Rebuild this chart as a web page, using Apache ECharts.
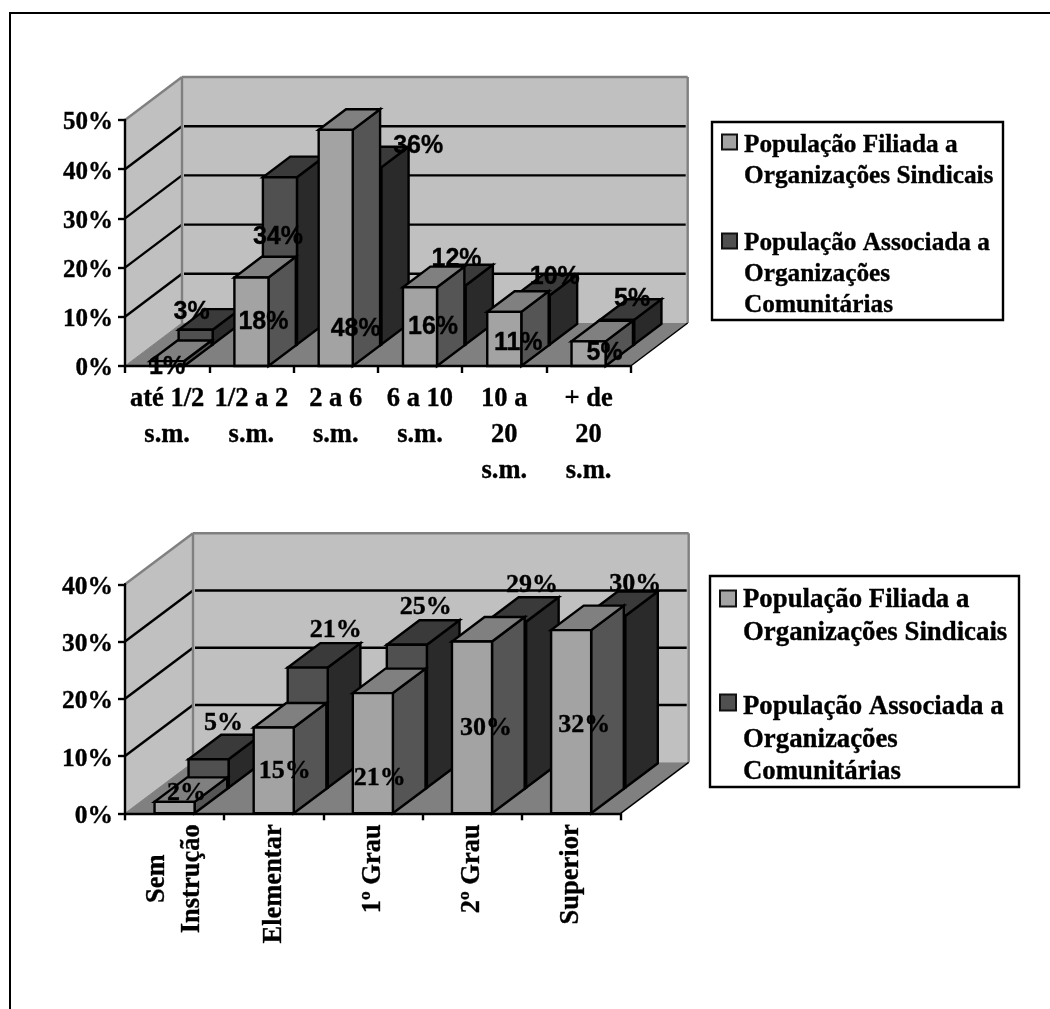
<!DOCTYPE html>
<html>
<head>
<meta charset="utf-8">
<style>html,body{margin:0;padding:0;background:#fff;overflow:hidden}#chart{width:1050px;height:1009px}</style>
<script src="https://cdn.jsdelivr.net/npm/echarts@6/dist/echarts.min.js"></script>
</head>
<body>
<div id="chart"></div>
<script>
// Filiação sindical e associação comunitária, por renda e por instrução
const seriesNames = ['População Filiada a\nOrganizações Sindicais', 'População Associada a\nOrganizações\nComunitárias'];

const rendaCategories = ['até 1/2\ns.m.', '1/2 a 2\ns.m.', '2 a 6\ns.m.', '6 a 10\ns.m.', '10 a\n20\ns.m.', '+ de\n20\ns.m.'];
const rendaFiliada = [1, 18, 48, 16, 11, 5];
const rendaAssociada = [3, 34, 36, 12, 10, 5];
const rendaTicks = [0, 10, 20, 30, 40, 50];

const instrucaoCategories = ['Sem\nInstrução', 'Elementar', '1º Grau', '2º Grau', 'Superior'];
const instrucaoFiliada = [2, 15, 21, 30, 32];
const instrucaoAssociada = [5, 21, 25, 29, 30];
const instrucaoTicks = [0, 10, 20, 30, 40];

// Deslocamento de cada rótulo de dados em relação ao topo da face frontal da barra
const rendaFiliadaNudge = [[0, 4], [12, 43], [20, 197], [13, 38], [14, 29], [16, 10]];
const rendaAssociadaNudge = [[-4, -20], [-2, 58], [54, -23], [8, -28], [22, -20], [15, -23]];
const instrucaoFiliadaNudge = [[12, -11], [11, 42], [7, 83], [14, 85], [13, 93]];
const instrucaoAssociadaNudge = [[15, -38], [28, -39], [19, -39], [26, -38], [30, -34]];

const SERIF = '"Liberation Serif","Times New Roman",serif';
const SANS = '"Liberation Sans",Arial,sans-serif';
const WALL = '#c0c0c0', FLOOR = '#808080', EDGE = '#808080', INK = '#000';
const FACES = [
  { front: '#a3a3a3', top: '#808080', side: '#555555' },
  { front: '#505050', top: '#3a3a3a', side: '#2a2a2a' }
];
const BAR_WIDTH = 0.404, BAR_DEPTH = 0.48, SLOT_DEPTH = 0.5;
const STROKE = 2.4;
const GLYPH_DROP = 2;   // centro óptico dos algarismos fica acima do centro da caixa de texto
const TEXT_WEIGHT = 0.35;

const line = (a, b, color, w) => ({
  type: 'line',
  shape: { x1: a[0], y1: a[1], x2: b[0], y2: b[1] },
  style: { stroke: color, lineWidth: w }
});
const poly = (points, fill, stroke, w) => ({
  type: 'polygon',
  shape: { points },
  style: { fill, stroke: stroke || null, lineWidth: w || 0, lineJoin: 'miter' }
});

// Paredes, piso e linhas de grade da caixa 3D
function wallsRenderer(depth, ticks, nCats) {
  return function (params, api) {
    const [dx, dy] = depth;
    const lo = ticks[0], hi = ticks[ticks.length - 1];
    const band = api.size([1, 0])[0];
    const x0 = api.coord([0, lo])[0] - band / 2;
    const x1 = api.coord([nCats - 1, lo])[0] + band / 2;
    const yB = api.coord([0, lo])[1], yT = api.coord([0, hi])[1];
    const kids = [
      poly([[x0, yB], [x0 + dx, yB + dy], [x0 + dx, yT + dy], [x0, yT]], WALL),
      poly([[x0 + dx, yB + dy], [x1 + dx, yB + dy], [x1 + dx, yT + dy], [x0 + dx, yT + dy]], WALL),
      poly([[x0, yB], [x1, yB], [x1 + dx, yB + dy], [x0 + dx, yB + dy]], FLOOR)
    ];
    ticks.slice(1, -1).forEach(t => {
      const y = api.coord([0, t])[1];
      kids.push(line([x0, y], [x0 + dx, y + dy], INK, STROKE));
      kids.push(line([x0 + dx + 2, y + dy], [x1 + dx - 2, y + dy], INK, STROKE));
    });
    kids.push(line([x0, yT], [x0 + dx, yT + dy], EDGE, STROKE));
    kids.push(line([x0 + dx, yT + dy], [x1 + dx, yT + dy], EDGE, STROKE));
    kids.push(line([x0 + dx, yT + dy], [x0 + dx, yB + dy], EDGE, STROKE));
    kids.push(line([x1 + dx, yT + dy], [x1 + dx, yB + dy], EDGE, STROKE));
    kids.push(line([x0, yB], [x0 + dx, yB + dy], EDGE, 1));
    kids.push(line([x1, yB], [x1 + dx, yB + dy], INK, 1.5));
    return { type: 'group', children: kids };
  };
}

// Posição da face frontal de uma barra
function barFront(api, depth, slot) {
  const i = api.value(0), v = api.value(1);
  const band = api.size([1, 0])[0];
  const top = api.coord([i, v]), base = api.coord([i, 0]);
  const ox = depth[0] * SLOT_DEPTH * slot, oy = depth[1] * SLOT_DEPTH * slot;
  return { cx: top[0] + ox, yTop: top[1] + oy, yBase: base[1] + oy, half: band * BAR_WIDTH / 2 };
}

function barRenderer(depth, slot) {
  const colors = FACES[slot];
  const ddx = depth[0] * BAR_DEPTH, ddy = depth[1] * BAR_DEPTH;
  return function (params, api) {
    const { cx, yTop, yBase, half } = barFront(api, depth, slot);
    const l = cx - half, r = cx + half;
    return {
      type: 'group',
      children: [
        poly([[r, yBase], [r + ddx, yBase + ddy], [r + ddx, yTop + ddy], [r, yTop]], colors.side, INK, STROKE),
        poly([[l, yTop], [r, yTop], [r + ddx, yTop + ddy], [l + ddx, yTop + ddy]], colors.top, INK, STROKE),
        poly([[l, yBase], [r, yBase], [r, yTop], [l, yTop]], colors.front, INK, STROKE)
      ]
    };
  };
}

function labelRenderer(depth, slot, nudges, font) {
  return function (params, api) {
    const { cx, yTop } = barFront(api, depth, slot);
    const n = nudges[params.dataIndex];
    return {
      type: 'text',
      x: cx + n[0],
      y: yTop + n[1] + GLYPH_DROP,
      style: { text: api.value(1) + '%', font, fill: '#000', stroke: '#000', lineWidth: TEXT_WEIGHT, align: 'center', verticalAlign: 'middle' }
    };
  };
}

function panelSeries(gridIndex, cats, depth, ticks, filiada, associada, nudges, labelFont) {
  const axes = { xAxisIndex: gridIndex, yAxisIndex: gridIndex };
  const rows = arr => arr.map((v, i) => [i, v]);
  return [
    { type: 'custom', name: 'paredes' + gridIndex, ...axes, z: 1, silent: true, clip: false,
      data: [[0, 0]], encode: { x: 0, y: 1 }, renderItem: wallsRenderer(depth, ticks, cats.length) },
    { type: 'custom', name: seriesNames[1], ...axes, z: 2, clip: false,
      data: rows(associada), encode: { x: 0, y: 1 }, renderItem: barRenderer(depth, 1) },
    { type: 'custom', name: seriesNames[0], ...axes, z: 3, clip: false,
      data: rows(filiada), encode: { x: 0, y: 1 }, renderItem: barRenderer(depth, 0) },
    { type: 'custom', name: 'rótulos associada' + gridIndex, ...axes, z: 20, silent: true, clip: false,
      data: rows(associada), encode: { x: 0, y: 1 }, renderItem: labelRenderer(depth, 1, nudges[1], labelFont) },
    { type: 'custom', name: 'rótulos filiada' + gridIndex, ...axes, z: 20, silent: true, clip: false,
      data: rows(filiada), encode: { x: 0, y: 1 }, renderItem: labelRenderer(depth, 0, nudges[0], labelFont) }
  ];
}

const axisBase = {
  axisLine: { show: true, onZero: false, lineStyle: { color: INK, width: STROKE } },
  axisTick: { show: true, length: 7, lineStyle: { color: INK, width: STROKE } },
  splitLine: { show: false },
  z: 10
};
const labelInk = { color: INK, textBorderColor: INK, textBorderWidth: TEXT_WEIGHT, fontFamily: SERIF, fontWeight: 'bold' };
const yAxisFor = (gridIndex, ticks, size) => ({
  ...axisBase, type: 'value', gridIndex, min: ticks[0], max: ticks[ticks.length - 1], interval: ticks[1] - ticks[0],
  axisLabel: { margin: 12, formatter: v => '{t|' + v + '%}',
    rich: { t: { ...labelInk, fontSize: size, padding: [2 * GLYPH_DROP + 2, 0, 0, 0] } } }
});

const legendGraphics = (box, iconX, iconSize, textX, iconYs, textYs, lineH, size) => {
  const items = [{
    type: 'rect', shape: { x: box[0], y: box[1], width: box[2], height: box[3] },
    style: { fill: '#fff', stroke: INK, lineWidth: 2.4 }, z: 30
  }];
  seriesNames.forEach((name, k) => {
    items.push({
      type: 'rect', shape: { x: iconX, y: iconYs[k], width: iconSize, height: iconSize },
      style: { fill: FACES[k].front, stroke: '#111', lineWidth: 2 }, z: 31
    });
    items.push({
      type: 'text', x: textX, y: textYs[k] + GLYPH_DROP, z: 31,
      style: { text: name, font: 'bold ' + size + 'px ' + SERIF, lineHeight: lineH, fill: INK, stroke: INK, lineWidth: TEXT_WEIGHT, align: 'left', verticalAlign: 'top' }
    });
  });
  return items;
};

const option = {
  animation: false,
  backgroundColor: '#fff',
  grid: [
    { left: 125, top: 120, width: 505.7, height: 246 },
    { left: 125, top: 584.3, width: 495.7, height: 229 }
  ],
  xAxis: [
    { ...axisBase, type: 'category', gridIndex: 0, data: rendaCategories,
      axisLabel: { ...labelInk, interval: 0, margin: 15, fontSize: 26.5, lineHeight: 36 } },
    { ...axisBase, type: 'category', gridIndex: 1, data: instrucaoCategories,
      axisLabel: { interval: 0, margin: 11, rotate: 90,
        formatter: v => v.split('\n').map(t => '{c|' + t + '}').join('\n'),
        rich: { c: { ...labelInk, align: 'center', lineHeight: 35, fontSize: 26.5 } } } }
  ],
  yAxis: [yAxisFor(0, rendaTicks, 25), yAxisFor(1, instrucaoTicks, 25.5)],
  series: [
    ...panelSeries(0, rendaCategories, [57, -43], rendaTicks, rendaFiliada, rendaAssociada,
      [rendaFiliadaNudge, rendaAssociadaNudge], 'bold 25px ' + SANS),
    ...panelSeries(1, instrucaoCategories, [68, -51], instrucaoTicks, instrucaoFiliada, instrucaoAssociada,
      [instrucaoFiliadaNudge, instrucaoAssociadaNudge], 'bold 26px ' + SERIF)
  ],
  graphic: [
    { type: 'line', shape: { x1: 10, y1: 13, x2: 1050, y2: 13 }, style: { stroke: INK, lineWidth: 2 }, z: 30 },
    { type: 'line', shape: { x1: 10, y1: 12, x2: 10, y2: 1009 }, style: { stroke: INK, lineWidth: 2 }, z: 30 },
    ...legendGraphics([712, 122, 291, 198], 722, 15, 744, [134.5, 233.5], [127.5, 226], 31, 25.3),
    ...legendGraphics([710, 576, 309, 211], 720, 16, 743, [590.5, 694.5], [582, 689], 32.5, 26.8)
  ]
};

echarts.init(document.getElementById('chart'), null, { renderer: 'canvas' }).setOption(option);
</script>
</body>
</html>
